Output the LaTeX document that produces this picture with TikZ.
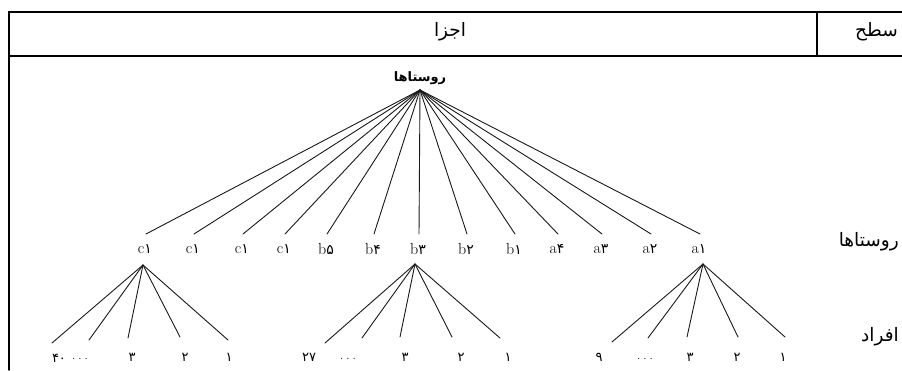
\documentclass[tikz,border=0pt]{standalone}
\usepackage{fontspec}
\TeXXeTstate=1
\newfontfamily\fa[Script=Arabic]{DejaVu Sans}
\begin{document}
\begin{tikzpicture}[x=1pt,y=-1pt,line cap=round]
\tikzset{
  frame/.style={line width=1.6pt},
  edge/.style={line width=0.9pt,black!90},
  hdr/.style={font=\fa\fontsize{18.5}{22}\selectfont,inner sep=0pt},
  rootlbl/.style={font=\fa\bfseries\fontsize{13}{15}\selectfont,inner sep=0pt},
  lvl/.style={font=\fontsize{16}{18}\selectfont,inner sep=0pt},
  num/.style={font=\fa\fontsize{13}{15}\selectfont,inner sep=0pt},
  dots/.style={font=\fontsize{12}{14}\selectfont,inner sep=0pt},
}
\useasboundingbox (0,0) rectangle (902,370);
% table frame
\coordinate (tr) at (902,12);
\coordinate (tl) at (9,12);
\coordinate (bl) at (9,370);
\coordinate (ml) at (9,56);
\coordinate (mr) at (902,56);
\coordinate (dt) at (817,12);
\coordinate (db) at (817,56);
\draw[frame] (tr) -- (tl) -- (bl);
\draw[frame] (ml) -- (mr);
\draw[frame] (dt) -- (db);
% headers
\node[hdr] (hparts) at (450,32) {\beginR اجزا\endR};
\node[hdr,anchor=east] (hlevel) at (898,32) {\beginR سطح\endR};
\node[hdr,anchor=east] (hvill) at (899,242) {\beginR روستاها\endR};
\node[hdr,anchor=east] (hpeople) at (899,337) {\beginR افراد\endR};
% root
\node[rootlbl] (root) at (420,78) {\beginR روستاها\endR};
\coordinate (rt) at (420,90);
% level 1
\foreach \n/\x/\l/\d in {1/145/c/۱,2/193/c/۱,3/242/c/۱,4/284/c/۱,5/326/b/۵,6/373/b/۴,7/418/b/۳,8/466/b/۲,9/514/b/۱,10/557/a/۴,11/601/a/۳,12/650/a/۲,13/699/a/۱}{
  \node[lvl] (l\n) at (\x,249) {\l{\fa\fontsize{14}{16}\selectfont\d}};
  \coordinate (e\n) at (\x+1,234);
  \draw[edge] (rt) -- (e\n);
}
% level 2 apexes
\coordinate (ac) at (143,265);
\coordinate (ab) at (415,264);
\coordinate (aa) at (703,264);
% c group
\foreach \n/\x/\y in {1/52/343,2/89/340,3/128/338,4/180/337,5/228/340}{
  \coordinate (c\n) at (\x,\y);
  \draw[edge] (ac) -- (c\n);
}
\node[num] (cn1) at (59,358) {۴۰};
\node[dots] (cn2) at (80,359) {.\hspace{3pt}.\hspace{3pt}.};
\node[num] (cn3) at (132,357) {۳};
\node[num] (cn4) at (185,357) {۲};
\node[num] (cn5) at (229,357) {۱};
% b group
\foreach \n/\x/\y in {1/325/343,2/362/338,3/400/337,4/452/337,5/500/338}{
  \coordinate (b\n) at (\x,\y);
  \draw[edge] (ab) -- (b\n);
}
\node[num] (bn1) at (309,357) {۲۷};
\node[dots] (bn2) at (348,359) {.\hspace{3pt}.\hspace{3pt}.};
\node[num] (bn3) at (405,357) {۳};
\node[num] (bn4) at (461,357) {۲};
\node[num] (bn5) at (508,357) {۱};
% a group
\foreach \n/\x/\y in {1/612/342,2/648/338,3/687/337,4/738/337,5/785/337}{
  \coordinate (a\n) at (\x,\y);
  \draw[edge] (aa) -- (a\n);
}
\node[num] (an1) at (599,357) {۹};
\node[dots] (an2) at (645,359) {.\hspace{3pt}.\hspace{3pt}.};
\node[num] (an3) at (690,357) {۳};
\node[num] (an4) at (737,357) {۲};
\node[num] (an5) at (783,357) {۱};
\end{tikzpicture}
\end{document}
